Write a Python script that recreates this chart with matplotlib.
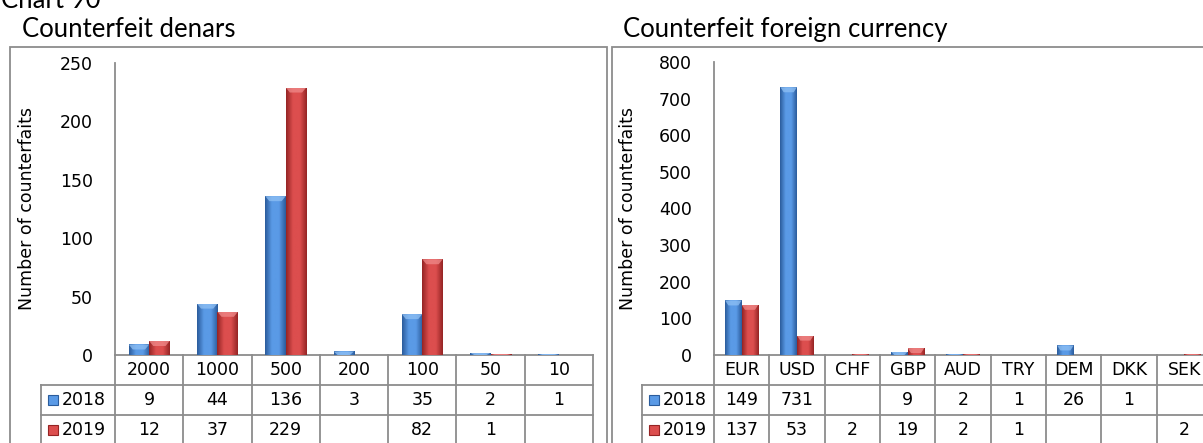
import numpy as np
import matplotlib.pyplot as plt
from matplotlib.patches import Rectangle, Polygon
from matplotlib.lines import Line2D
from matplotlib.colors import LinearSegmentedColormap
import matplotlib.transforms as mtransforms

plt.rcParams['font.family'] = ['DejaVu Sans']

# counterfeit denars by banknote
denars = ['2000', '1000', '500', '200', '100', '50', '10']
denars_2018 = [9, 44, 136, 3, 35, 2, 1]
denars_2019 = [12, 37, 229, None, 82, 1, None]

# counterfeit foreign currency by currency
currencies = ['EUR', 'USD', 'CHF', 'GBP', 'AUD', 'TRY', 'DEM', 'DKK', 'SEK']
foreign_2018 = [149, 731, None, 9, 2, 1, 26, 1, None]
foreign_2019 = [137, 53, 2, 19, 2, 1, None, None, 2]

years = ['2018', '2019']

W, H = 1203, 443
GRID = '#8c8c8c'
BLUE = ('#2b5c9c', '#5a9ae6', '#8fc0f4')
RED = ('#952424', '#dc4e4e', '#f08a8a')
FS = 12.5

fig = plt.figure(figsize=(W / 100, H / 100), dpi=100)


def px_axes(x0, x1, y_top, y_bot):
    return fig.add_axes([x0 / W, 1 - y_bot / H, (x1 - x0) / W, (y_bot - y_top) / H])


def shaded_bars(ax, xs, vals, width, colors, bevel):
    cmap = LinearSegmentedColormap.from_list('c', [colors[0], colors[1], colors[1], colors[0]])
    grad = np.linspace(0, 1, 64).reshape(1, -1)
    for x, v in zip(xs, vals):
        if v is None:
            continue
        bar = ax.bar(x, v, width, color=colors[1], edgecolor='none', zorder=2)[0]
        im = ax.imshow(grad, cmap=cmap, aspect='auto', zorder=3,
                       extent=[x - width / 2, x + width / 2, 0, v])
        im.set_clip_path(bar)
        # light bevel on the bar top
        d = min(bevel, v)
        cap = Polygon([(x - width / 2, v), (x + width / 2, v), (x + width * 0.3, v - d),
                       (x - width * 0.3, v - d)], closed=True,
                      facecolor=colors[2], edgecolor='none', alpha=0.75, zorder=4)
        ax.add_patch(cap)
        cap.set_clip_path(bar)


def panel(x0, x1, y_top, cats, s18, s19, ymax, step, leg_px):
    ax = px_axes(x0, x1, y_top, 355)
    n = len(cats)
    xs = np.arange(n)
    w = 0.3
    bevel = 5 * ymax / (355 - y_top)
    shaded_bars(ax, xs - w / 2, s18, w, BLUE, bevel)
    shaded_bars(ax, xs + w / 2, s19, w, RED, bevel)
    ax.set_xlim(-0.5, n - 0.5)
    ax.set_ylim(0, ymax)
    ax.set_yticks(np.arange(0, ymax + 1, step))
    ax.set_xticks([])
    for s in ['top', 'right', 'bottom']:
        ax.spines[s].set_visible(False)
    ax.spines['left'].set_color(GRID)
    ax.spines['left'].set_linewidth(1.3)
    ax.tick_params(axis='y', length=0, pad=16, labelsize=FS)
    ax.set_ylabel('Number of counterfaits', fontsize=FS)
    ax_w = x1 - x0
    ax.yaxis.set_label_coords((leg_px - 5 - x0) / ax_w, 0.5)

    # data table under the bars
    r = 30 / (355 - y_top)
    leg = (leg_px - x0) / ax_w
    tr = mtransforms.blended_transform_factory(ax.transData, ax.transAxes)
    kw = dict(color=GRID, lw=1.3, clip_on=False)
    ax.add_line(Line2D([-0.5, n - 0.5], [0, 0], transform=tr, **kw))
    for k in range(n + 1):
        ax.add_line(Line2D([k - 0.5, k - 0.5], [0, -3.2 * r], transform=tr, **kw))
    for yy in (-r, -2 * r):
        ax.add_line(Line2D([leg, 1], [yy, yy], transform=ax.transAxes, **kw))
    ax.add_line(Line2D([leg, leg], [-r, -3.2 * r], transform=ax.transAxes, **kw))
    for k, c in enumerate(cats):
        ax.text(k, -0.5 * r, c, transform=tr, ha='center', va='center', fontsize=FS)
    for row, (vals, colors) in enumerate([(s18, BLUE), (s19, RED)]):
        yc = -(row + 1.5) * r
        for k, v in enumerate(vals):
            if v is not None:
                ax.text(k, yc, str(v), transform=tr, ha='center', va='center', fontsize=FS)
        sq = 10 / ax_w
        ax.add_patch(Rectangle((leg + 7 / ax_w, yc - 5 / (355 - y_top)), sq, 10 / (355 - y_top),
                               transform=ax.transAxes, clip_on=False,
                               facecolor=colors[1], edgecolor=colors[0], lw=0.8))
        ax.text(leg + 21 / ax_w, yc, years[row], transform=ax.transAxes,
                ha='left', va='center', fontsize=FS)
    return ax


panel(115, 593, 63, denars, denars_2018, denars_2019, 250, 50, 41)
panel(714, 1212, 62, currencies, foreign_2018, foreign_2019, 800, 100, 642)

# panel frames
for fx0, fx1 in [(10, 607), (612, 1215)]:
    fig.add_artist(Rectangle((fx0 / W, -0.05), (fx1 - fx0) / W, 1.05 - 47 / H,
                             transform=fig.transFigure, fill=False,
                             edgecolor=GRID, lw=1.3))

fig.text(1 / W, 1 - 8 / H, 'Chart 90', fontsize=18.5, family='Lato', va='baseline')
fig.text(22 / W, 1 - 37 / H, 'Counterfeit denars', fontsize=18.5, family='Lato', va='baseline')
fig.text(623 / W, 1 - 37 / H, 'Counterfeit foreign currency', fontsize=18.5, family='Lato',
         va='baseline')

fig.savefig('out.png', dpi=100)
